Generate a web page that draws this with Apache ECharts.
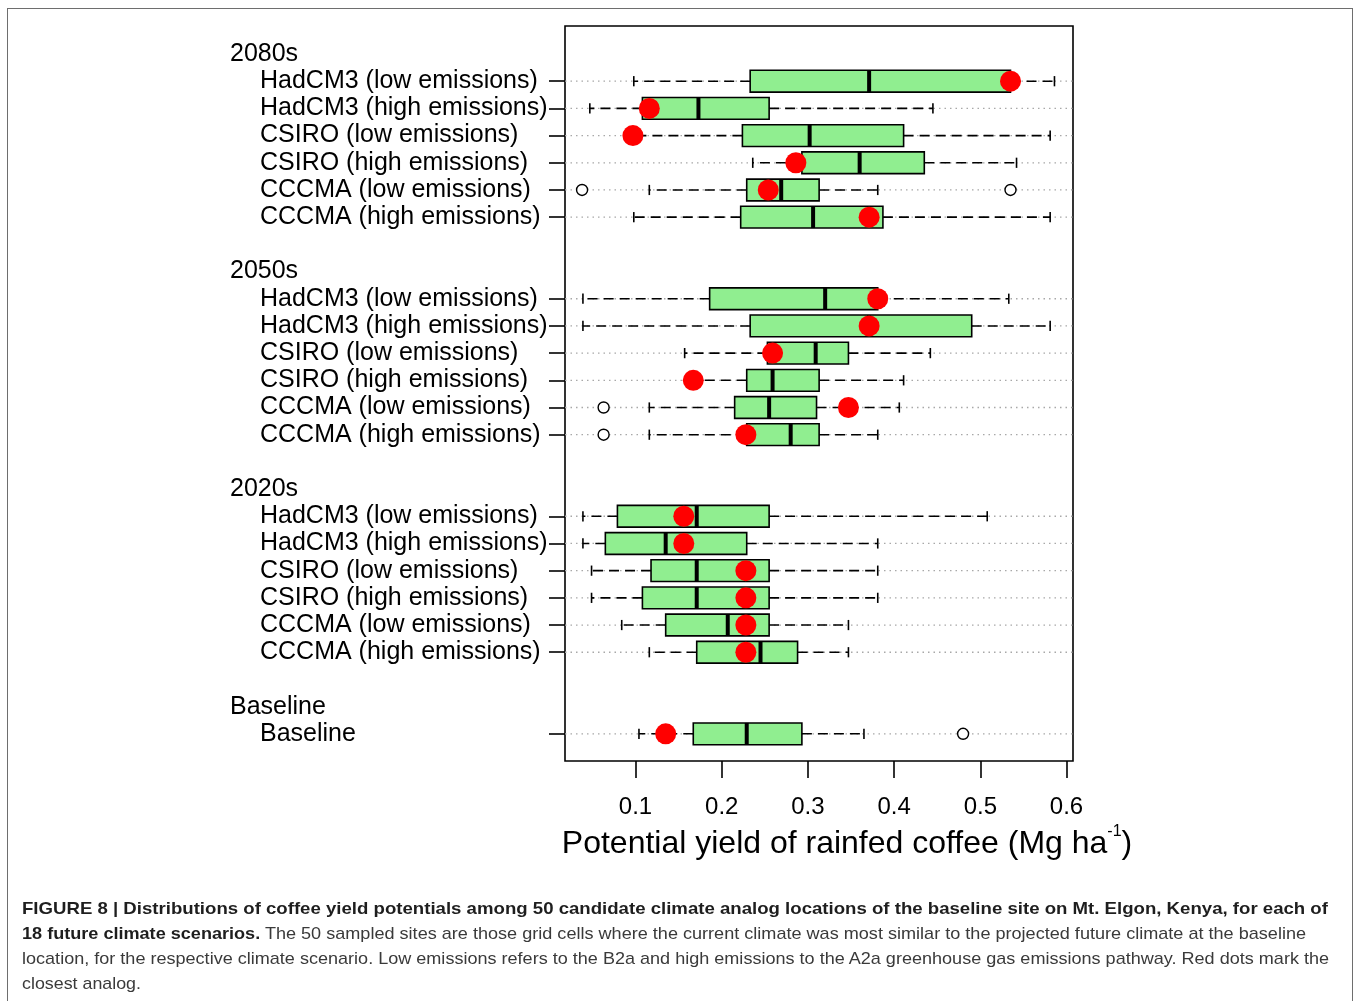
<!DOCTYPE html>
<html>
<head>
<meta charset="utf-8">
<script src="https://cdn.jsdelivr.net/npm/echarts@6/dist/echarts.min.js"></script>
<style>
  html, body { margin: 0; padding: 0; background: #fff; }
  #chart { position: absolute; left: 0; top: 0; width: 1358px; height: 1001px; }
  #frame { position: absolute; left: 7px; top: 8px; width: 1346px; height: 1010px;
           border: 1.5px solid #6e6e6e; box-sizing: border-box; }
  #caption { position: absolute; left: 22px; top: 896px; font-family: 'Liberation Sans', Arial, sans-serif;
             font-size: 17px; line-height: 25px; color: #3a3a3a; }
  #caption div { white-space: nowrap; transform-origin: 0 50%; display: block; width: max-content; }
  #caption b { color: #1e1e1e; }
</style>
</head>
<body>
<div id="frame"></div>
<div id="chart"></div>
<div id="caption">
  <div data-w="1306"><b>FIGURE 8 | Distributions of coffee yield potentials among 50 candidate climate analog locations of the baseline site on Mt. Elgon, Kenya, for each of</b></div>
  <div data-w="1284"><b>18 future climate scenarios.</b> The 50 sampled sites are those grid cells where the current climate was most similar to the projected future climate at the baseline</div>
  <div data-w="1307">location, for the respective climate scenario. Low emissions refers to the B2a and high emissions to the A2a greenhouse gas emissions pathway. Red dots mark the</div>
  <div data-w="119">closest analog.</div>
</div>
<script>
// ---- data ----
const groupNames = ['2080s', '2050s', '2020s', 'Baseline'];
const scenarioNames = ['HadCM3 (low emissions)', 'HadCM3 (high emissions)', 'CSIRO (low emissions)',
                       'CSIRO (high emissions)', 'CCCMA (low emissions)', 'CCCMA (high emissions)'];
const baselineName = 'Baseline';
// rows: 2080s x6, 2050s x6, 2020s x6, Baseline
const whiskerLow  = [0.098, 0.047, 0.098, 0.236, 0.116, 0.098,
                     0.039, 0.039, 0.157, 0.168, 0.116, 0.116,
                     0.039, 0.039, 0.049, 0.049, 0.084, 0.116,
                     0.104];
const quartile1   = [0.233, 0.108, 0.224, 0.293, 0.229, 0.222,
                     0.186, 0.233, 0.253, 0.229, 0.215, 0.229,
                     0.079, 0.065, 0.118, 0.108, 0.135, 0.171,
                     0.167];
const medianVals  = [0.371, 0.173, 0.302, 0.360, 0.269, 0.306,
                     0.320, 0.371, 0.309, 0.259, 0.255, 0.280,
                     0.171, 0.135, 0.171, 0.171, 0.207, 0.245,
                     0.229];
const quartile3   = [0.535, 0.255, 0.411, 0.435, 0.313, 0.387,
                     0.381, 0.490, 0.347, 0.313, 0.310, 0.313,
                     0.255, 0.229, 0.255, 0.255, 0.255, 0.288,
                     0.293];
const whiskerHigh = [0.586, 0.445, 0.581, 0.542, 0.381, 0.581,
                     0.533, 0.581, 0.442, 0.411, 0.406, 0.381,
                     0.508, 0.381, 0.381, 0.381, 0.347, 0.347,
                     0.365];
const closestAnalog = [0.535, 0.116, 0.097, 0.286, 0.254, 0.371,
                       0.381, 0.371, 0.259, 0.167, 0.347, 0.228,
                       0.156, 0.156, 0.228, 0.228, 0.228, 0.228,
                       0.135];
// outliers: [row index, value]
const outlierPoints = [[4, 0.038], [4, 0.535], [10, 0.063], [11, 0.063], [18, 0.480]];
const xTickValues = [0.1, 0.2, 0.3, 0.4, 0.5, 0.6];

// ---- layout of category slots (headers + rows) ----
const rowPos = [];
const labelMap = {};
groupNames.forEach((g, gi) => {
  const base = gi * 8;
  labelMap[base] = { text: g, header: true };
  const names = gi < 3 ? scenarioNames : [baselineName];
  names.forEach((n, i) => {
    rowPos.push(base + 1 + i);
    labelMap[base + 1 + i] = { text: n, header: false };
  });
});
const labelPositions = Object.keys(labelMap).map(Number);

const boxData = rowPos.map((p, i) => [p, whiskerLow[i], quartile1[i], medianVals[i], quartile3[i], whiskerHigh[i]]);
const redData = rowPos.map((p, i) => [closestAnalog[i], p]);
const outData = outlierPoints.map(o => [o[1], rowPos[o[0]]]);

const FONT = "'Liberation Sans', Arial, Helvetica, sans-serif";

function renderBox(params, api) {
  const pos = api.value(0);
  const vals = [1, 2, 3, 4, 5].map(k => api.value(k));
  const xs = vals.map(v => api.coord([v, pos])[0]);
  const y = api.coord([vals[2], pos])[1];
  const h = api.size([0, 0.8])[1];
  const cap = h * 0.47;
  const cs = params.coordSys;
  const dash = { stroke: '#000', lineWidth: 1.6, lineDash: [10, 6] };
  return {
    type: 'group',
    children: [
      { type: 'line', shape: { x1: cs.x, y1: y, x2: cs.x + cs.width, y2: y },
        style: { stroke: '#a8a8a8', lineWidth: 1.3, lineDash: [1.5, 4] } },
      { type: 'line', shape: { x1: xs[1], y1: y, x2: xs[0], y2: y }, style: dash },
      { type: 'line', shape: { x1: xs[3], y1: y, x2: xs[4], y2: y }, style: dash },
      { type: 'line', shape: { x1: xs[0], y1: y - cap / 2, x2: xs[0], y2: y + cap / 2 },
        style: { stroke: '#000', lineWidth: 1.6 } },
      { type: 'line', shape: { x1: xs[4], y1: y - cap / 2, x2: xs[4], y2: y + cap / 2 },
        style: { stroke: '#000', lineWidth: 1.6 } },
      { type: 'rect', shape: { x: xs[1], y: y - h / 2, width: xs[3] - xs[1], height: h },
        style: { fill: '#90EE90', stroke: '#000', lineWidth: 1.6 } },
      { type: 'line', shape: { x1: xs[2], y1: y - h / 2, x2: xs[2], y2: y + h / 2 },
        style: { stroke: '#000', lineWidth: 4 } }
    ]
  };
}

const chart = echarts.init(document.getElementById('chart'), null, { renderer: 'canvas' });
chart.setOption({
  animation: false,
  backgroundColor: 'transparent',
  textStyle: { fontFamily: FONT },
  grid: { left: 565, top: 26, width: 508, height: 735, show: true, borderColor: '#000', borderWidth: 1.6,
          containLabel: false, outerBoundsMode: 'none' },
  xAxis: {
    type: 'value', min: 0.0182, max: 0.6075, position: 'bottom',
    name: '{a|Potential yield of rainfed coffee (Mg ha}{s|-1}{a|)}',
    nameLocation: 'middle', nameGap: 59,
    nameTextStyle: {
      padding: [0, 0, 0, 56],
      rich: {
        a: { fontSize: 32, color: '#000', fontFamily: FONT, lineHeight: 36, verticalAlign: 'bottom' },
        s: { fontSize: 16, color: '#000', fontFamily: FONT, lineHeight: 16, verticalAlign: 'top' }
      }
    },
    axisLine: { show: false, onZero: false },
    axisTick: { show: true, customValues: xTickValues, length: 17, lineStyle: { color: '#000', width: 1.6 } },
    axisLabel: { customValues: xTickValues, fontSize: 24, color: '#000', margin: 34, fontFamily: FONT,
                 formatter: v => v.toFixed(1) },
    splitLine: { show: false }
  },
  yAxis: {
    type: 'value', inverse: true, min: -1.03, max: 26,
    axisLine: { show: false, onZero: false },
    axisTick: { show: true, customValues: rowPos, length: 16, lineStyle: { color: '#000', width: 1.6 } },
    axisLabel: {
      customValues: labelPositions, align: 'left', margin: 335,
      formatter: v => {
        const l = labelMap[Math.round(v)];
        if (!l) return '';
        return l.header ? '{h|' + l.text + '}' : '{r|' + l.text + '}';
      },
      rich: {
        h: { fontSize: 25, color: '#000', fontFamily: FONT },
        r: { fontSize: 25, color: '#000', fontFamily: FONT, padding: [0, 0, 0, 30] }
      }
    },
    splitLine: { show: false }
  },
  series: [
    { type: 'custom', renderItem: renderBox, data: boxData, encode: { x: [1, 2, 3, 4, 5], y: 0 }, z: 2, silent: true, clip: false },
    { type: 'scatter', data: outData, symbol: 'circle', symbolSize: 11, z: 3, silent: true,
      itemStyle: { color: '#ffffff', borderColor: '#000000', borderWidth: 1.4, opacity: 1 } },
    { type: 'scatter', data: redData, symbol: 'circle', symbolSize: 21, z: 4, silent: true,
      itemStyle: { color: '#ff0000', opacity: 1 } }
  ]
});

// fit caption lines to measured widths
document.querySelectorAll('#caption div').forEach(d => {
  const target = +d.getAttribute('data-w');
  const w = d.getBoundingClientRect().width;
  if (w > 0) d.style.transform = 'scaleX(' + (target / w).toFixed(4) + ')';
});
</script>
</body>
</html>
